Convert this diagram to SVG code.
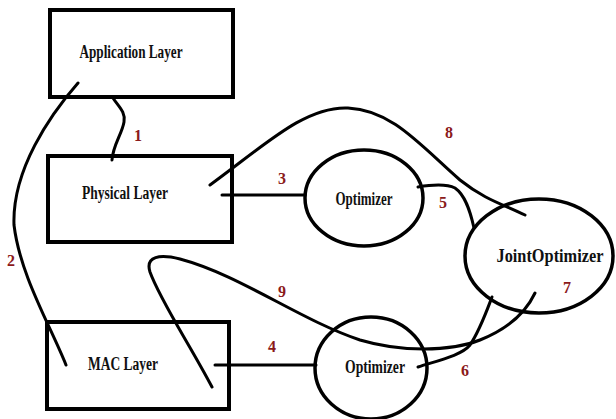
<svg xmlns="http://www.w3.org/2000/svg" width="616" height="419" viewBox="0 0 616 419">
<style>
.box{fill:#fff;stroke:#000;stroke-width:4}
.ell{fill:#fff;stroke:#000;stroke-width:3.5}
.t{font-family:"Liberation Serif","Times New Roman",serif;font-weight:bold;font-size:18px;fill:#111;text-anchor:middle}
.c{fill:none;stroke:#000;stroke-width:3;stroke-linecap:round}
.l{font-family:"Liberation Serif","Times New Roman",serif;font-weight:bold;font-size:16px;fill:#8b1a1a;text-anchor:middle}
</style>
<rect width="616" height="419" fill="#fff"/>
<g id="app"><rect class="box" x="50" y="10" width="183" height="87"/><text class="t" x="131" y="58" textLength="103" lengthAdjust="spacingAndGlyphs">Application Layer</text></g>
<g id="phy"><rect class="box" x="48" y="156" width="184" height="86"/><text class="t" x="125" y="199" textLength="86" lengthAdjust="spacingAndGlyphs">Physical Layer</text></g>
<g id="mac"><rect class="box" x="47" y="322" width="182" height="87"/><text class="t" x="123" y="370" textLength="70" lengthAdjust="spacingAndGlyphs">MAC Layer</text></g>
<g id="opt1"><ellipse class="ell" cx="364" cy="198" rx="59" ry="48"/><text class="t" x="364" y="205" textLength="57" lengthAdjust="spacingAndGlyphs">Optimizer</text></g>
<g id="joint"><ellipse class="ell" cx="539" cy="256" rx="74" ry="57"/><text class="t" x="550" y="262" textLength="107" lengthAdjust="spacingAndGlyphs">JointOptimizer</text></g>
<g id="opt2"><ellipse class="ell" cx="371" cy="368" rx="56" ry="51"/><text class="t" x="375" y="373" textLength="60" lengthAdjust="spacingAndGlyphs">Optimizer</text></g>
<g id="connectors">
<path class="c" d="M113,98 C118,106 126,112 124,122 C122,134 113,145 112,160"/>
<path class="c" d="M78,83 C50,115 12,170 14,225 C20,275 50,325 66,365"/>
<path class="c" d="M222,195 L305,195" stroke-width="4"/>
<path class="c" d="M210,185 C265,145 305,106 348,108 C392,110 420,145 460,180 C485,200 505,205 525,215"/>
<path class="c" d="M418,187 C430,185 445,183 455,188 C465,195 470,210 474,228"/>
<path class="c" d="M215,365 L316,365" stroke-width="4"/>
<path class="c" d="M212,387 C190,345 160,300 150,272 C145,256 160,254 180,259 C240,275 300,320 360,340 C400,352 450,352 480,340 C510,328 527,310 535,293"/>
<path class="c" d="M418,367 C440,360 462,355 470,345 C480,330 487,310 492,297"/>
<text class="l" x="138" y="141">1</text>
<text class="l" x="11" y="266">2</text>
<text class="l" x="282" y="184">3</text>
<text class="l" x="272" y="352">4</text>
<text class="l" x="443" y="208">5</text>
<text class="l" x="465" y="376">6</text>
<text class="l" x="567" y="293">7</text>
<text class="l" x="449" y="138">8</text>
<text class="l" x="282" y="297">9</text>
</g>
</svg>
